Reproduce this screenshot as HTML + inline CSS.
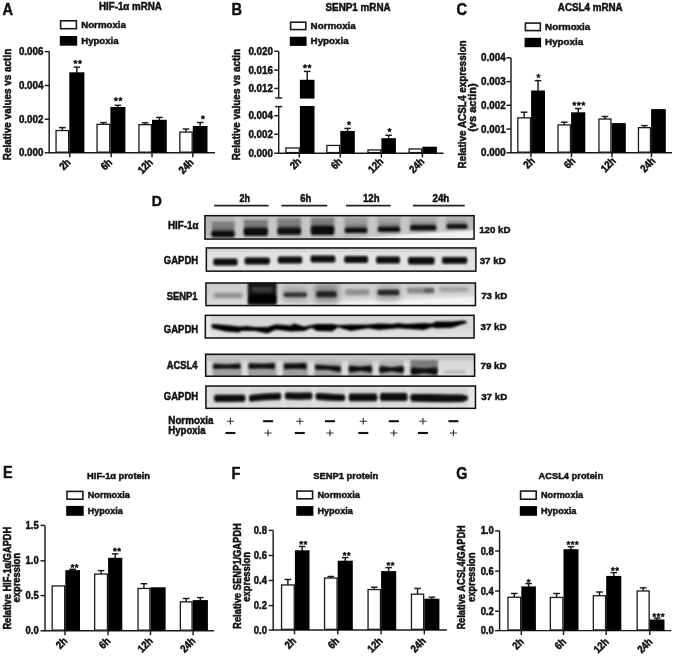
<!DOCTYPE html>
<html><head><meta charset="utf-8"><style>
html,body{margin:0;padding:0;background:#fff;width:673px;height:657px;overflow:hidden}
svg{display:block;will-change:transform}
text{font-family:"Liberation Sans", sans-serif;font-weight:bold;fill:#111;stroke:#111;stroke-width:0.45px}
</style></head><body>
<svg width="673" height="657" viewBox="0 0 673 657">
<rect width="673" height="657" fill="#fff"/>
<text transform="translate(2.60,14.80) scale(1,1.08)" font-size="14.6" text-anchor="start" >A</text>
<text transform="translate(130.40,10.20) scale(1,1.06)" font-size="9.6" text-anchor="middle" textLength="63.0" lengthAdjust="spacingAndGlyphs" >HIF-1α mRNA</text>
<rect x="60.60" y="20.80" width="15.80" height="7.90" fill="#fff" stroke="#1a1a1a" stroke-width="1.6"/>
<rect x="59.80" y="36.00" width="17.40" height="9.70" fill="#000"/>
<text transform="translate(81.20,27.60) scale(1,1.04)" font-size="9.6" text-anchor="start" textLength="44.7" lengthAdjust="spacingAndGlyphs" >Normoxia</text>
<text transform="translate(81.20,43.70) scale(1,1.04)" font-size="9.6" text-anchor="start" textLength="37.4" lengthAdjust="spacingAndGlyphs" >Hypoxia</text>
<line x1="49.20" y1="51.30" x2="49.20" y2="152.80" stroke="#1a1a1a" stroke-width="1.45"/>
<line x1="48.55" y1="152.80" x2="215.00" y2="152.80" stroke="#1a1a1a" stroke-width="1.45"/>
<line x1="44.70" y1="51.60" x2="49.20" y2="51.60" stroke="#1a1a1a" stroke-width="1.45"/>
<text transform="translate(43.40,55.10) scale(1,1.08)" font-size="9.8" text-anchor="end" >0.006</text>
<line x1="44.70" y1="85.50" x2="49.20" y2="85.50" stroke="#1a1a1a" stroke-width="1.45"/>
<text transform="translate(43.40,89.00) scale(1,1.08)" font-size="9.8" text-anchor="end" >0.004</text>
<line x1="44.70" y1="119.20" x2="49.20" y2="119.20" stroke="#1a1a1a" stroke-width="1.45"/>
<text transform="translate(43.40,122.70) scale(1,1.08)" font-size="9.8" text-anchor="end" >0.002</text>
<line x1="44.70" y1="152.80" x2="49.20" y2="152.80" stroke="#1a1a1a" stroke-width="1.45"/>
<text transform="translate(43.40,156.30) scale(1,1.08)" font-size="9.8" text-anchor="end" >0.000</text>
<text transform="translate(11.10,104.50) rotate(-90) scale(1,1.16)" font-size="9.8" text-anchor="middle" textLength="111.5" lengthAdjust="spacingAndGlyphs" >Relative values vs actin</text>
<line x1="62.35" y1="127.60" x2="62.35" y2="130.90" stroke="#1a1a1a" stroke-width="1.45"/>
<line x1="59.05" y1="127.60" x2="65.65" y2="127.60" stroke="#1a1a1a" stroke-width="1.45"/>
<rect x="56.05" y="130.55" width="12.60" height="21.60" fill="#fff" stroke="#1a1a1a" stroke-width="1.3"/>
<line x1="76.85" y1="67.10" x2="76.85" y2="73.30" stroke="#1a1a1a" stroke-width="1.45"/>
<line x1="73.55" y1="67.10" x2="80.15" y2="67.10" stroke="#1a1a1a" stroke-width="1.45"/>
<rect x="69.30" y="72.30" width="15.10" height="80.50" fill="#000"/>
<line x1="103.40" y1="122.60" x2="103.40" y2="124.70" stroke="#1a1a1a" stroke-width="1.45"/>
<line x1="100.10" y1="122.60" x2="106.70" y2="122.60" stroke="#1a1a1a" stroke-width="1.45"/>
<rect x="97.05" y="124.35" width="12.70" height="27.80" fill="#fff" stroke="#1a1a1a" stroke-width="1.3"/>
<line x1="117.90" y1="105.30" x2="117.90" y2="108.00" stroke="#1a1a1a" stroke-width="1.45"/>
<line x1="114.60" y1="105.30" x2="121.20" y2="105.30" stroke="#1a1a1a" stroke-width="1.45"/>
<rect x="110.40" y="107.00" width="15.00" height="45.80" fill="#000"/>
<line x1="145.15" y1="122.80" x2="145.15" y2="125.00" stroke="#1a1a1a" stroke-width="1.45"/>
<line x1="141.85" y1="122.80" x2="148.45" y2="122.80" stroke="#1a1a1a" stroke-width="1.45"/>
<rect x="138.95" y="124.65" width="12.40" height="27.50" fill="#fff" stroke="#1a1a1a" stroke-width="1.3"/>
<line x1="159.40" y1="117.40" x2="159.40" y2="120.80" stroke="#1a1a1a" stroke-width="1.45"/>
<line x1="156.10" y1="117.40" x2="162.70" y2="117.40" stroke="#1a1a1a" stroke-width="1.45"/>
<rect x="152.00" y="119.80" width="14.80" height="33.00" fill="#000"/>
<line x1="186.00" y1="129.00" x2="186.00" y2="132.40" stroke="#1a1a1a" stroke-width="1.45"/>
<line x1="182.70" y1="129.00" x2="189.30" y2="129.00" stroke="#1a1a1a" stroke-width="1.45"/>
<rect x="179.85" y="132.05" width="12.30" height="20.10" fill="#fff" stroke="#1a1a1a" stroke-width="1.3"/>
<line x1="200.15" y1="122.50" x2="200.15" y2="127.00" stroke="#1a1a1a" stroke-width="1.45"/>
<line x1="196.85" y1="122.50" x2="203.45" y2="122.50" stroke="#1a1a1a" stroke-width="1.45"/>
<rect x="192.80" y="126.00" width="14.70" height="26.80" fill="#000"/>
<polygon points="75.45,59.90 76.07,61.15 77.45,61.35 76.45,62.32 76.68,63.70 75.45,63.05 74.22,63.70 74.45,62.32 73.45,61.35 74.83,61.15" fill="#111" stroke="#111" stroke-width="0.7" stroke-linejoin="round"/>
<polygon points="79.95,59.90 80.57,61.15 81.95,61.35 80.95,62.32 81.18,63.70 79.95,63.05 78.72,63.70 78.95,62.32 77.95,61.35 79.33,61.15" fill="#111" stroke="#111" stroke-width="0.7" stroke-linejoin="round"/>
<polygon points="115.95,97.15 116.57,98.40 117.95,98.60 116.95,99.57 117.18,100.95 115.95,100.30 114.72,100.95 114.95,99.57 113.95,98.60 115.33,98.40" fill="#111" stroke="#111" stroke-width="0.7" stroke-linejoin="round"/>
<polygon points="120.45,97.15 121.07,98.40 122.45,98.60 121.45,99.57 121.68,100.95 120.45,100.30 119.22,100.95 119.45,99.57 118.45,98.60 119.83,98.40" fill="#111" stroke="#111" stroke-width="0.7" stroke-linejoin="round"/>
<polygon points="202.90,115.30 203.52,116.55 204.90,116.75 203.90,117.72 204.13,119.10 202.90,118.45 201.67,119.10 201.90,117.72 200.90,116.75 202.28,116.55" fill="#111" stroke="#111" stroke-width="0.7" stroke-linejoin="round"/>
<line x1="69.80" y1="152.80" x2="69.80" y2="157.20" stroke="#1a1a1a" stroke-width="1.45"/>
<text transform="translate(71.40,163.10) rotate(-45) scale(1,1.15)" font-size="9.4" text-anchor="end" >2h</text>
<line x1="111.20" y1="152.80" x2="111.20" y2="157.20" stroke="#1a1a1a" stroke-width="1.45"/>
<text transform="translate(112.80,163.10) rotate(-45) scale(1,1.15)" font-size="9.4" text-anchor="end" >6h</text>
<line x1="152.00" y1="152.80" x2="152.00" y2="157.20" stroke="#1a1a1a" stroke-width="1.45"/>
<text transform="translate(153.60,163.10) rotate(-45) scale(1,1.15)" font-size="9.4" text-anchor="end" >12h</text>
<line x1="192.80" y1="152.80" x2="192.80" y2="157.20" stroke="#1a1a1a" stroke-width="1.45"/>
<text transform="translate(194.40,163.10) rotate(-45) scale(1,1.15)" font-size="9.4" text-anchor="end" >24h</text>
<text transform="translate(231.60,14.80) scale(1,1.08)" font-size="14.6" text-anchor="start" >B</text>
<text transform="translate(358.05,10.50) scale(1,1.06)" font-size="9.6" text-anchor="middle" textLength="65.1" lengthAdjust="spacingAndGlyphs" >SENP1 mRNA</text>
<rect x="290.60" y="22.20" width="15.20" height="7.40" fill="#fff" stroke="#1a1a1a" stroke-width="1.6"/>
<rect x="289.80" y="36.70" width="16.80" height="9.20" fill="#000"/>
<text transform="translate(310.60,28.50) scale(1,1.04)" font-size="9.6" text-anchor="start" textLength="45.2" lengthAdjust="spacingAndGlyphs" >Normoxia</text>
<text transform="translate(310.60,43.90) scale(1,1.04)" font-size="9.6" text-anchor="start" textLength="38.1" lengthAdjust="spacingAndGlyphs" >Hypoxia</text>
<line x1="278.70" y1="51.30" x2="278.70" y2="98.00" stroke="#1a1a1a" stroke-width="1.45"/>
<line x1="278.70" y1="106.60" x2="278.70" y2="153.20" stroke="#1a1a1a" stroke-width="1.45"/>
<line x1="275.20" y1="98.00" x2="282.20" y2="98.00" stroke="#1a1a1a" stroke-width="1.45"/>
<line x1="275.20" y1="106.60" x2="282.20" y2="106.60" stroke="#1a1a1a" stroke-width="1.45"/>
<line x1="278.05" y1="153.20" x2="443.60" y2="153.20" stroke="#1a1a1a" stroke-width="1.45"/>
<line x1="274.20" y1="51.30" x2="278.70" y2="51.30" stroke="#1a1a1a" stroke-width="1.45"/>
<text transform="translate(272.90,54.80) scale(1,1.08)" font-size="9.8" text-anchor="end" >0.020</text>
<line x1="274.20" y1="70.10" x2="278.70" y2="70.10" stroke="#1a1a1a" stroke-width="1.45"/>
<text transform="translate(272.90,73.60) scale(1,1.08)" font-size="9.8" text-anchor="end" >0.016</text>
<line x1="274.20" y1="88.40" x2="278.70" y2="88.40" stroke="#1a1a1a" stroke-width="1.45"/>
<text transform="translate(272.90,91.90) scale(1,1.08)" font-size="9.8" text-anchor="end" >0.012</text>
<line x1="274.20" y1="115.70" x2="278.70" y2="115.70" stroke="#1a1a1a" stroke-width="1.45"/>
<text transform="translate(272.90,119.20) scale(1,1.08)" font-size="9.8" text-anchor="end" >0.004</text>
<line x1="274.20" y1="134.30" x2="278.70" y2="134.30" stroke="#1a1a1a" stroke-width="1.45"/>
<text transform="translate(272.90,137.80) scale(1,1.08)" font-size="9.8" text-anchor="end" >0.002</text>
<line x1="274.20" y1="153.20" x2="278.70" y2="153.20" stroke="#1a1a1a" stroke-width="1.45"/>
<text transform="translate(272.90,156.70) scale(1,1.08)" font-size="9.8" text-anchor="end" >0.000</text>
<text transform="translate(240.00,104.60) rotate(-90) scale(1,1.16)" font-size="9.8" text-anchor="middle" textLength="111.5" lengthAdjust="spacingAndGlyphs" >Relative values vs actin</text>
<rect x="285.95" y="147.95" width="13.30" height="4.60" fill="#fff" stroke="#1a1a1a" stroke-width="1.3"/>
<line x1="307.20" y1="71.40" x2="307.20" y2="80.80" stroke="#1a1a1a" stroke-width="1.45"/>
<line x1="303.90" y1="71.40" x2="310.50" y2="71.40" stroke="#1a1a1a" stroke-width="1.45"/>
<rect x="299.90" y="79.80" width="14.60" height="73.40" fill="#000"/>
<rect x="326.85" y="145.45" width="12.80" height="7.10" fill="#fff" stroke="#1a1a1a" stroke-width="1.3"/>
<line x1="347.55" y1="128.40" x2="347.55" y2="131.90" stroke="#1a1a1a" stroke-width="1.45"/>
<line x1="344.25" y1="128.40" x2="350.85" y2="128.40" stroke="#1a1a1a" stroke-width="1.45"/>
<rect x="340.30" y="130.90" width="14.50" height="22.30" fill="#000"/>
<rect x="367.95" y="149.95" width="12.80" height="2.60" fill="#fff" stroke="#1a1a1a" stroke-width="1.3"/>
<line x1="388.65" y1="135.30" x2="388.65" y2="139.20" stroke="#1a1a1a" stroke-width="1.45"/>
<line x1="385.35" y1="135.30" x2="391.95" y2="135.30" stroke="#1a1a1a" stroke-width="1.45"/>
<rect x="381.40" y="138.20" width="14.50" height="15.00" fill="#000"/>
<rect x="409.15" y="148.95" width="12.60" height="3.60" fill="#fff" stroke="#1a1a1a" stroke-width="1.3"/>
<rect x="422.40" y="146.70" width="14.50" height="6.50" fill="#000"/>
<rect x="295.00" y="98.60" width="25.00" height="7.40" fill="#fff"/>
<polygon points="304.95,64.25 305.57,65.50 306.95,65.70 305.95,66.67 306.18,68.05 304.95,67.40 303.72,68.05 303.95,66.67 302.95,65.70 304.33,65.50" fill="#111" stroke="#111" stroke-width="0.7" stroke-linejoin="round"/>
<polygon points="309.45,64.25 310.07,65.50 311.45,65.70 310.45,66.67 310.68,68.05 309.45,67.40 308.22,68.05 308.45,66.67 307.45,65.70 308.83,65.50" fill="#111" stroke="#111" stroke-width="0.7" stroke-linejoin="round"/>
<polygon points="349.00,121.15 349.62,122.40 351.00,122.60 350.00,123.57 350.23,124.95 349.00,124.30 347.77,124.95 348.00,123.57 347.00,122.60 348.38,122.40" fill="#111" stroke="#111" stroke-width="0.7" stroke-linejoin="round"/>
<polygon points="389.50,128.05 390.12,129.30 391.50,129.50 390.50,130.47 390.73,131.85 389.50,131.20 388.27,131.85 388.50,130.47 387.50,129.50 388.88,129.30" fill="#111" stroke="#111" stroke-width="0.7" stroke-linejoin="round"/>
<line x1="299.30" y1="153.20" x2="299.30" y2="157.60" stroke="#1a1a1a" stroke-width="1.45"/>
<text transform="translate(301.90,162.30) rotate(-45) scale(1,1.15)" font-size="9.4" text-anchor="end" >2h</text>
<line x1="340.30" y1="153.20" x2="340.30" y2="157.60" stroke="#1a1a1a" stroke-width="1.45"/>
<text transform="translate(342.90,162.30) rotate(-45) scale(1,1.15)" font-size="9.4" text-anchor="end" >6h</text>
<line x1="381.40" y1="153.20" x2="381.40" y2="157.60" stroke="#1a1a1a" stroke-width="1.45"/>
<text transform="translate(384.00,162.30) rotate(-45) scale(1,1.15)" font-size="9.4" text-anchor="end" >12h</text>
<line x1="422.40" y1="153.20" x2="422.40" y2="157.60" stroke="#1a1a1a" stroke-width="1.45"/>
<text transform="translate(425.00,162.30) rotate(-45) scale(1,1.15)" font-size="9.4" text-anchor="end" >24h</text>
<text transform="translate(456.60,14.80) scale(1,1.08)" font-size="14.6" text-anchor="start" >C</text>
<text transform="translate(590.25,10.70) scale(1,1.06)" font-size="9.6" text-anchor="middle" textLength="64.9" lengthAdjust="spacingAndGlyphs" >ACSL4 mRNA</text>
<rect x="525.40" y="23.10" width="14.90" height="7.50" fill="#fff" stroke="#1a1a1a" stroke-width="1.6"/>
<rect x="524.60" y="37.80" width="16.50" height="9.40" fill="#000"/>
<text transform="translate(545.10,29.50) scale(1,1.04)" font-size="9.6" text-anchor="start" textLength="45.1" lengthAdjust="spacingAndGlyphs" >Normoxia</text>
<text transform="translate(545.10,45.20) scale(1,1.04)" font-size="9.6" text-anchor="start" textLength="38.0" lengthAdjust="spacingAndGlyphs" >Hypoxia</text>
<line x1="511.00" y1="57.70" x2="511.00" y2="152.80" stroke="#1a1a1a" stroke-width="1.45"/>
<line x1="510.35" y1="152.80" x2="672.00" y2="152.80" stroke="#1a1a1a" stroke-width="1.45"/>
<line x1="506.50" y1="57.80" x2="511.00" y2="57.80" stroke="#1a1a1a" stroke-width="1.45"/>
<text transform="translate(505.60,61.30) scale(1,1.08)" font-size="9.8" text-anchor="end" >0.004</text>
<line x1="506.50" y1="81.60" x2="511.00" y2="81.60" stroke="#1a1a1a" stroke-width="1.45"/>
<text transform="translate(505.60,85.10) scale(1,1.08)" font-size="9.8" text-anchor="end" >0.003</text>
<line x1="506.50" y1="105.30" x2="511.00" y2="105.30" stroke="#1a1a1a" stroke-width="1.45"/>
<text transform="translate(505.60,108.80) scale(1,1.08)" font-size="9.8" text-anchor="end" >0.002</text>
<line x1="506.50" y1="129.10" x2="511.00" y2="129.10" stroke="#1a1a1a" stroke-width="1.45"/>
<text transform="translate(505.60,132.60) scale(1,1.08)" font-size="9.8" text-anchor="end" >0.001</text>
<line x1="506.50" y1="152.80" x2="511.00" y2="152.80" stroke="#1a1a1a" stroke-width="1.45"/>
<text transform="translate(505.60,156.30) scale(1,1.08)" font-size="9.8" text-anchor="end" >0.000</text>
<text transform="translate(465.80,104.50) rotate(-90) scale(1,1.16)" font-size="9.8" text-anchor="middle" textLength="128" lengthAdjust="spacingAndGlyphs" >Relative ACSL4 expression</text>
<text transform="translate(476.20,107.60) rotate(-90) scale(1,1.16)" font-size="9.8" text-anchor="middle" textLength="48.5" lengthAdjust="spacingAndGlyphs" >(vs actin)</text>
<line x1="524.15" y1="112.20" x2="524.15" y2="118.20" stroke="#1a1a1a" stroke-width="1.45"/>
<line x1="520.85" y1="112.20" x2="527.45" y2="112.20" stroke="#1a1a1a" stroke-width="1.45"/>
<rect x="517.85" y="117.85" width="12.60" height="34.30" fill="#fff" stroke="#1a1a1a" stroke-width="1.3"/>
<line x1="538.05" y1="80.60" x2="538.05" y2="91.50" stroke="#1a1a1a" stroke-width="1.45"/>
<line x1="534.75" y1="80.60" x2="541.35" y2="80.60" stroke="#1a1a1a" stroke-width="1.45"/>
<rect x="531.10" y="90.50" width="13.90" height="62.30" fill="#000"/>
<line x1="564.25" y1="122.20" x2="564.25" y2="125.30" stroke="#1a1a1a" stroke-width="1.45"/>
<line x1="560.95" y1="122.20" x2="567.55" y2="122.20" stroke="#1a1a1a" stroke-width="1.45"/>
<rect x="558.05" y="124.95" width="12.40" height="27.20" fill="#fff" stroke="#1a1a1a" stroke-width="1.3"/>
<line x1="578.20" y1="108.50" x2="578.20" y2="113.30" stroke="#1a1a1a" stroke-width="1.45"/>
<line x1="574.90" y1="108.50" x2="581.50" y2="108.50" stroke="#1a1a1a" stroke-width="1.45"/>
<rect x="571.10" y="112.30" width="14.20" height="40.50" fill="#000"/>
<line x1="604.95" y1="116.50" x2="604.95" y2="119.40" stroke="#1a1a1a" stroke-width="1.45"/>
<line x1="601.65" y1="116.50" x2="608.25" y2="116.50" stroke="#1a1a1a" stroke-width="1.45"/>
<rect x="598.95" y="119.05" width="12.00" height="33.10" fill="#fff" stroke="#1a1a1a" stroke-width="1.3"/>
<rect x="611.60" y="123.10" width="14.20" height="29.70" fill="#000"/>
<line x1="644.45" y1="125.60" x2="644.45" y2="128.00" stroke="#1a1a1a" stroke-width="1.45"/>
<line x1="641.15" y1="125.60" x2="647.75" y2="125.60" stroke="#1a1a1a" stroke-width="1.45"/>
<rect x="638.45" y="127.65" width="12.00" height="24.50" fill="#fff" stroke="#1a1a1a" stroke-width="1.3"/>
<rect x="651.10" y="109.10" width="14.70" height="43.70" fill="#000"/>
<polygon points="538.40,73.90 539.02,75.15 540.40,75.35 539.40,76.32 539.63,77.70 538.40,77.05 537.17,77.70 537.40,76.32 536.40,75.35 537.78,75.15" fill="#111" stroke="#111" stroke-width="0.7" stroke-linejoin="round"/>
<polygon points="574.30,101.70 574.92,102.95 576.30,103.15 575.30,104.12 575.53,105.50 574.30,104.85 573.07,105.50 573.30,104.12 572.30,103.15 573.68,102.95" fill="#111" stroke="#111" stroke-width="0.7" stroke-linejoin="round"/>
<polygon points="578.80,101.70 579.42,102.95 580.80,103.15 579.80,104.12 580.03,105.50 578.80,104.85 577.57,105.50 577.80,104.12 576.80,103.15 578.18,102.95" fill="#111" stroke="#111" stroke-width="0.7" stroke-linejoin="round"/>
<polygon points="583.30,101.70 583.92,102.95 585.30,103.15 584.30,104.12 584.53,105.50 583.30,104.85 582.07,105.50 582.30,104.12 581.30,103.15 582.68,102.95" fill="#111" stroke="#111" stroke-width="0.7" stroke-linejoin="round"/>
<line x1="531.00" y1="152.80" x2="531.00" y2="157.20" stroke="#1a1a1a" stroke-width="1.45"/>
<text transform="translate(535.60,161.60) rotate(-45) scale(1,1.15)" font-size="9.4" text-anchor="end" >2h</text>
<line x1="571.50" y1="152.80" x2="571.50" y2="157.20" stroke="#1a1a1a" stroke-width="1.45"/>
<text transform="translate(576.10,161.60) rotate(-45) scale(1,1.15)" font-size="9.4" text-anchor="end" >6h</text>
<line x1="612.00" y1="152.80" x2="612.00" y2="157.20" stroke="#1a1a1a" stroke-width="1.45"/>
<text transform="translate(616.60,161.60) rotate(-45) scale(1,1.15)" font-size="9.4" text-anchor="end" >12h</text>
<line x1="651.50" y1="152.80" x2="651.50" y2="157.20" stroke="#1a1a1a" stroke-width="1.45"/>
<text transform="translate(656.10,161.60) rotate(-45) scale(1,1.15)" font-size="9.4" text-anchor="end" >24h</text>
<text transform="translate(3.00,477.90) scale(1,1.15)" font-size="14.4" text-anchor="start" >E</text>
<text transform="translate(118.55,479.00) scale(1,1.06)" font-size="9.2" text-anchor="middle" textLength="62.9" lengthAdjust="spacingAndGlyphs" >HIF-1α protein</text>
<rect x="67.00" y="491.40" width="15.90" height="7.80" fill="#fff" stroke="#1a1a1a" stroke-width="1.6"/>
<rect x="66.20" y="505.90" width="17.50" height="9.90" fill="#000"/>
<text transform="translate(87.70,498.10) scale(1,1.04)" font-size="9.2" text-anchor="start" textLength="42.2" lengthAdjust="spacingAndGlyphs" >Normoxia</text>
<text transform="translate(87.70,513.80) scale(1,1.04)" font-size="9.2" text-anchor="start" textLength="35.1" lengthAdjust="spacingAndGlyphs" >Hypoxia</text>
<line x1="45.00" y1="525.40" x2="45.00" y2="630.80" stroke="#1a1a1a" stroke-width="1.45"/>
<line x1="44.35" y1="630.80" x2="214.10" y2="630.80" stroke="#1a1a1a" stroke-width="1.45"/>
<line x1="40.50" y1="525.40" x2="45.00" y2="525.40" stroke="#1a1a1a" stroke-width="1.45"/>
<text transform="translate(38.60,528.90) scale(1,1.08)" font-size="9.4" text-anchor="end" >1.5</text>
<line x1="40.50" y1="560.80" x2="45.00" y2="560.80" stroke="#1a1a1a" stroke-width="1.45"/>
<text transform="translate(38.60,564.30) scale(1,1.08)" font-size="9.4" text-anchor="end" >1.0</text>
<line x1="40.50" y1="595.60" x2="45.00" y2="595.60" stroke="#1a1a1a" stroke-width="1.45"/>
<text transform="translate(38.60,599.10) scale(1,1.08)" font-size="9.4" text-anchor="end" >0.5</text>
<line x1="40.50" y1="630.80" x2="45.00" y2="630.80" stroke="#1a1a1a" stroke-width="1.45"/>
<text transform="translate(38.60,634.30) scale(1,1.08)" font-size="9.4" text-anchor="end" >0.0</text>
<text transform="translate(11.20,578.20) rotate(-90) scale(1,1.16)" font-size="9.4" text-anchor="middle" textLength="102.7" lengthAdjust="spacingAndGlyphs" >Relative HIF-1α/GAPDH</text>
<text transform="translate(20.30,577.70) rotate(-90) scale(1,1.16)" font-size="9.4" text-anchor="middle" >expression</text>
<rect x="52.15" y="585.95" width="12.50" height="44.20" fill="#fff" stroke="#1a1a1a" stroke-width="1.3"/>
<line x1="72.65" y1="569.30" x2="72.65" y2="571.10" stroke="#1a1a1a" stroke-width="1.45"/>
<line x1="69.35" y1="569.30" x2="75.95" y2="569.30" stroke="#1a1a1a" stroke-width="1.45"/>
<rect x="65.30" y="570.10" width="14.70" height="60.70" fill="#000"/>
<line x1="101.05" y1="570.60" x2="101.05" y2="574.40" stroke="#1a1a1a" stroke-width="1.45"/>
<line x1="97.75" y1="570.60" x2="104.35" y2="570.60" stroke="#1a1a1a" stroke-width="1.45"/>
<rect x="94.65" y="574.05" width="12.80" height="56.10" fill="#fff" stroke="#1a1a1a" stroke-width="1.3"/>
<line x1="115.20" y1="553.90" x2="115.20" y2="558.80" stroke="#1a1a1a" stroke-width="1.45"/>
<line x1="111.90" y1="553.90" x2="118.50" y2="553.90" stroke="#1a1a1a" stroke-width="1.45"/>
<rect x="108.10" y="557.80" width="14.20" height="73.00" fill="#000"/>
<line x1="143.95" y1="583.70" x2="143.95" y2="588.80" stroke="#1a1a1a" stroke-width="1.45"/>
<line x1="140.65" y1="583.70" x2="147.25" y2="583.70" stroke="#1a1a1a" stroke-width="1.45"/>
<rect x="138.05" y="588.45" width="11.80" height="41.70" fill="#fff" stroke="#1a1a1a" stroke-width="1.3"/>
<rect x="150.50" y="587.30" width="15.10" height="43.50" fill="#000"/>
<line x1="186.20" y1="598.50" x2="186.20" y2="602.20" stroke="#1a1a1a" stroke-width="1.45"/>
<line x1="182.90" y1="598.50" x2="189.50" y2="598.50" stroke="#1a1a1a" stroke-width="1.45"/>
<rect x="180.35" y="601.85" width="11.70" height="28.30" fill="#fff" stroke="#1a1a1a" stroke-width="1.3"/>
<line x1="200.30" y1="597.60" x2="200.30" y2="601.10" stroke="#1a1a1a" stroke-width="1.45"/>
<line x1="197.00" y1="597.60" x2="203.60" y2="597.60" stroke="#1a1a1a" stroke-width="1.45"/>
<rect x="192.70" y="600.10" width="15.20" height="30.70" fill="#000"/>
<polygon points="72.50,564.05 73.09,565.24 74.40,565.43 73.45,566.36 73.68,567.67 72.50,567.05 71.32,567.67 71.55,566.36 70.60,565.43 71.91,565.24" fill="#111" stroke="#111" stroke-width="0.7" stroke-linejoin="round"/>
<polygon points="76.70,564.05 77.29,565.24 78.60,565.43 77.65,566.36 77.88,567.67 76.70,567.05 75.52,567.67 75.75,566.36 74.80,565.43 76.11,565.24" fill="#111" stroke="#111" stroke-width="0.7" stroke-linejoin="round"/>
<polygon points="114.90,547.70 115.49,548.89 116.80,549.08 115.85,550.01 116.08,551.32 114.90,550.70 113.72,551.32 113.95,550.01 113.00,549.08 114.31,548.89" fill="#111" stroke="#111" stroke-width="0.7" stroke-linejoin="round"/>
<polygon points="119.10,547.70 119.69,548.89 121.00,549.08 120.05,550.01 120.28,551.32 119.10,550.70 117.92,551.32 118.15,550.01 117.20,549.08 118.51,548.89" fill="#111" stroke="#111" stroke-width="0.7" stroke-linejoin="round"/>
<line x1="65.00" y1="630.80" x2="65.00" y2="635.20" stroke="#1a1a1a" stroke-width="1.45"/>
<text transform="translate(68.00,641.70) rotate(-45) scale(1,1.15)" font-size="9.4" text-anchor="end" >2h</text>
<line x1="108.10" y1="630.80" x2="108.10" y2="635.20" stroke="#1a1a1a" stroke-width="1.45"/>
<text transform="translate(111.10,641.70) rotate(-45) scale(1,1.15)" font-size="9.4" text-anchor="end" >6h</text>
<line x1="150.50" y1="630.80" x2="150.50" y2="635.20" stroke="#1a1a1a" stroke-width="1.45"/>
<text transform="translate(153.50,641.70) rotate(-45) scale(1,1.15)" font-size="9.4" text-anchor="end" >12h</text>
<line x1="193.10" y1="630.80" x2="193.10" y2="635.20" stroke="#1a1a1a" stroke-width="1.45"/>
<text transform="translate(196.10,641.70) rotate(-45) scale(1,1.15)" font-size="9.4" text-anchor="end" >24h</text>
<text transform="translate(231.60,478.80) scale(1,1.15)" font-size="14.4" text-anchor="start" >F</text>
<text transform="translate(345.75,478.80) scale(1,1.06)" font-size="9.2" text-anchor="middle" textLength="65.1" lengthAdjust="spacingAndGlyphs" >SENP1 protein</text>
<rect x="297.00" y="491.10" width="15.60" height="7.70" fill="#fff" stroke="#1a1a1a" stroke-width="1.6"/>
<rect x="296.20" y="506.10" width="17.20" height="9.70" fill="#000"/>
<text transform="translate(317.40,497.70) scale(1,1.04)" font-size="9.2" text-anchor="start" textLength="42.5" lengthAdjust="spacingAndGlyphs" >Normoxia</text>
<text transform="translate(317.40,513.80) scale(1,1.04)" font-size="9.2" text-anchor="start" textLength="35.4" lengthAdjust="spacingAndGlyphs" >Hypoxia</text>
<line x1="273.20" y1="530.40" x2="273.20" y2="630.00" stroke="#1a1a1a" stroke-width="1.45"/>
<line x1="272.55" y1="630.00" x2="446.90" y2="630.00" stroke="#1a1a1a" stroke-width="1.45"/>
<line x1="268.70" y1="530.40" x2="273.20" y2="530.40" stroke="#1a1a1a" stroke-width="1.45"/>
<text transform="translate(266.90,533.90) scale(1,1.08)" font-size="9.4" text-anchor="end" >0.8</text>
<line x1="268.70" y1="555.50" x2="273.20" y2="555.50" stroke="#1a1a1a" stroke-width="1.45"/>
<text transform="translate(266.90,559.00) scale(1,1.08)" font-size="9.4" text-anchor="end" >0.6</text>
<line x1="268.70" y1="580.50" x2="273.20" y2="580.50" stroke="#1a1a1a" stroke-width="1.45"/>
<text transform="translate(266.90,584.00) scale(1,1.08)" font-size="9.4" text-anchor="end" >0.4</text>
<line x1="268.70" y1="605.60" x2="273.20" y2="605.60" stroke="#1a1a1a" stroke-width="1.45"/>
<text transform="translate(266.90,609.10) scale(1,1.08)" font-size="9.4" text-anchor="end" >0.2</text>
<line x1="268.70" y1="630.00" x2="273.20" y2="630.00" stroke="#1a1a1a" stroke-width="1.45"/>
<text transform="translate(266.90,633.50) scale(1,1.08)" font-size="9.4" text-anchor="end" >0.0</text>
<text transform="translate(240.70,576.00) rotate(-90) scale(1,1.16)" font-size="9.4" text-anchor="middle" textLength="105.8" lengthAdjust="spacingAndGlyphs" >Relative SENP1/GAPDH</text>
<text transform="translate(250.00,576.90) rotate(-90) scale(1,1.16)" font-size="9.4" text-anchor="middle" >expression</text>
<line x1="287.90" y1="579.50" x2="287.90" y2="585.30" stroke="#1a1a1a" stroke-width="1.45"/>
<line x1="284.60" y1="579.50" x2="291.20" y2="579.50" stroke="#1a1a1a" stroke-width="1.45"/>
<rect x="281.55" y="584.95" width="12.70" height="44.40" fill="#fff" stroke="#1a1a1a" stroke-width="1.3"/>
<line x1="302.20" y1="546.50" x2="302.20" y2="551.30" stroke="#1a1a1a" stroke-width="1.45"/>
<line x1="298.90" y1="546.50" x2="305.50" y2="546.50" stroke="#1a1a1a" stroke-width="1.45"/>
<rect x="294.90" y="550.30" width="14.60" height="79.70" fill="#000"/>
<line x1="330.80" y1="576.50" x2="330.80" y2="578.40" stroke="#1a1a1a" stroke-width="1.45"/>
<line x1="327.50" y1="576.50" x2="334.10" y2="576.50" stroke="#1a1a1a" stroke-width="1.45"/>
<rect x="324.55" y="578.05" width="12.50" height="51.30" fill="#fff" stroke="#1a1a1a" stroke-width="1.3"/>
<line x1="345.25" y1="557.60" x2="345.25" y2="561.70" stroke="#1a1a1a" stroke-width="1.45"/>
<line x1="341.95" y1="557.60" x2="348.55" y2="557.60" stroke="#1a1a1a" stroke-width="1.45"/>
<rect x="337.70" y="560.70" width="15.10" height="69.30" fill="#000"/>
<line x1="374.25" y1="587.20" x2="374.25" y2="589.90" stroke="#1a1a1a" stroke-width="1.45"/>
<line x1="370.95" y1="587.20" x2="377.55" y2="587.20" stroke="#1a1a1a" stroke-width="1.45"/>
<rect x="368.05" y="589.55" width="12.40" height="39.80" fill="#fff" stroke="#1a1a1a" stroke-width="1.3"/>
<line x1="388.65" y1="567.60" x2="388.65" y2="572.10" stroke="#1a1a1a" stroke-width="1.45"/>
<line x1="385.35" y1="567.60" x2="391.95" y2="567.60" stroke="#1a1a1a" stroke-width="1.45"/>
<rect x="381.10" y="571.10" width="15.10" height="58.90" fill="#000"/>
<line x1="417.55" y1="588.40" x2="417.55" y2="594.50" stroke="#1a1a1a" stroke-width="1.45"/>
<line x1="414.25" y1="588.40" x2="420.85" y2="588.40" stroke="#1a1a1a" stroke-width="1.45"/>
<rect x="411.45" y="594.15" width="12.20" height="35.20" fill="#fff" stroke="#1a1a1a" stroke-width="1.3"/>
<line x1="431.85" y1="597.20" x2="431.85" y2="599.70" stroke="#1a1a1a" stroke-width="1.45"/>
<line x1="428.55" y1="597.20" x2="435.15" y2="597.20" stroke="#1a1a1a" stroke-width="1.45"/>
<rect x="424.30" y="598.70" width="15.10" height="31.30" fill="#000"/>
<polygon points="301.20,540.85 301.79,542.04 303.10,542.23 302.15,543.16 302.38,544.47 301.20,543.85 300.02,544.47 300.25,543.16 299.30,542.23 300.61,542.04" fill="#111" stroke="#111" stroke-width="0.7" stroke-linejoin="round"/>
<polygon points="305.40,540.85 305.99,542.04 307.30,542.23 306.35,543.16 306.58,544.47 305.40,543.85 304.22,544.47 304.45,543.16 303.50,542.23 304.81,542.04" fill="#111" stroke="#111" stroke-width="0.7" stroke-linejoin="round"/>
<polygon points="344.60,552.00 345.19,553.19 346.50,553.38 345.55,554.31 345.78,555.62 344.60,555.00 343.42,555.62 343.65,554.31 342.70,553.38 344.01,553.19" fill="#111" stroke="#111" stroke-width="0.7" stroke-linejoin="round"/>
<polygon points="348.80,552.00 349.39,553.19 350.70,553.38 349.75,554.31 349.98,555.62 348.80,555.00 347.62,555.62 347.85,554.31 346.90,553.38 348.21,553.19" fill="#111" stroke="#111" stroke-width="0.7" stroke-linejoin="round"/>
<polygon points="388.40,561.95 388.99,563.14 390.30,563.33 389.35,564.26 389.58,565.57 388.40,564.95 387.22,565.57 387.45,564.26 386.50,563.33 387.81,563.14" fill="#111" stroke="#111" stroke-width="0.7" stroke-linejoin="round"/>
<polygon points="392.60,561.95 393.19,563.14 394.50,563.33 393.55,564.26 393.78,565.57 392.60,564.95 391.42,565.57 391.65,564.26 390.70,563.33 392.01,563.14" fill="#111" stroke="#111" stroke-width="0.7" stroke-linejoin="round"/>
<line x1="294.50" y1="630.00" x2="294.50" y2="634.40" stroke="#1a1a1a" stroke-width="1.45"/>
<text transform="translate(296.70,641.80) rotate(-45) scale(1,1.15)" font-size="9.4" text-anchor="end" >2h</text>
<line x1="337.70" y1="630.00" x2="337.70" y2="634.40" stroke="#1a1a1a" stroke-width="1.45"/>
<text transform="translate(339.90,641.80) rotate(-45) scale(1,1.15)" font-size="9.4" text-anchor="end" >6h</text>
<line x1="381.10" y1="630.00" x2="381.10" y2="634.40" stroke="#1a1a1a" stroke-width="1.45"/>
<text transform="translate(383.30,641.80) rotate(-45) scale(1,1.15)" font-size="9.4" text-anchor="end" >12h</text>
<line x1="424.30" y1="630.00" x2="424.30" y2="634.40" stroke="#1a1a1a" stroke-width="1.45"/>
<text transform="translate(426.50,641.80) rotate(-45) scale(1,1.15)" font-size="9.4" text-anchor="end" >24h</text>
<text transform="translate(456.20,478.70) scale(1,1.15)" font-size="14.4" text-anchor="start" >G</text>
<text transform="translate(570.80,479.00) scale(1,1.06)" font-size="9.2" text-anchor="middle" textLength="64.6" lengthAdjust="spacingAndGlyphs" >ACSL4 protein</text>
<rect x="520.60" y="491.10" width="15.60" height="8.10" fill="#fff" stroke="#1a1a1a" stroke-width="1.6"/>
<rect x="519.80" y="506.10" width="17.20" height="9.70" fill="#000"/>
<text transform="translate(541.00,498.10) scale(1,1.04)" font-size="9.2" text-anchor="start" textLength="42.1" lengthAdjust="spacingAndGlyphs" >Normoxia</text>
<text transform="translate(541.00,513.80) scale(1,1.04)" font-size="9.2" text-anchor="start" textLength="35.3" lengthAdjust="spacingAndGlyphs" >Hypoxia</text>
<line x1="499.60" y1="530.80" x2="499.60" y2="630.60" stroke="#1a1a1a" stroke-width="1.45"/>
<line x1="498.95" y1="630.60" x2="671.30" y2="630.60" stroke="#1a1a1a" stroke-width="1.45"/>
<line x1="495.10" y1="530.90" x2="499.60" y2="530.90" stroke="#1a1a1a" stroke-width="1.45"/>
<text transform="translate(493.70,534.40) scale(1,1.08)" font-size="9.4" text-anchor="end" >1.0</text>
<line x1="495.10" y1="551.00" x2="499.60" y2="551.00" stroke="#1a1a1a" stroke-width="1.45"/>
<text transform="translate(493.70,554.50) scale(1,1.08)" font-size="9.4" text-anchor="end" >0.8</text>
<line x1="495.10" y1="571.10" x2="499.60" y2="571.10" stroke="#1a1a1a" stroke-width="1.45"/>
<text transform="translate(493.70,574.60) scale(1,1.08)" font-size="9.4" text-anchor="end" >0.6</text>
<line x1="495.10" y1="591.00" x2="499.60" y2="591.00" stroke="#1a1a1a" stroke-width="1.45"/>
<text transform="translate(493.70,594.50) scale(1,1.08)" font-size="9.4" text-anchor="end" >0.4</text>
<line x1="495.10" y1="611.20" x2="499.60" y2="611.20" stroke="#1a1a1a" stroke-width="1.45"/>
<text transform="translate(493.70,614.70) scale(1,1.08)" font-size="9.4" text-anchor="end" >0.2</text>
<line x1="495.10" y1="630.60" x2="499.60" y2="630.60" stroke="#1a1a1a" stroke-width="1.45"/>
<text transform="translate(493.70,634.10) scale(1,1.08)" font-size="9.4" text-anchor="end" >0.0</text>
<text transform="translate(464.90,577.40) rotate(-90) scale(1,1.16)" font-size="9.4" text-anchor="middle" textLength="104.4" lengthAdjust="spacingAndGlyphs" >Relative ACSL4/GAPDH</text>
<text transform="translate(475.00,577.30) rotate(-90) scale(1,1.16)" font-size="9.4" text-anchor="middle" >expression</text>
<line x1="514.30" y1="593.50" x2="514.30" y2="597.60" stroke="#1a1a1a" stroke-width="1.45"/>
<line x1="511.00" y1="593.50" x2="517.60" y2="593.50" stroke="#1a1a1a" stroke-width="1.45"/>
<rect x="507.95" y="597.25" width="12.70" height="32.70" fill="#fff" stroke="#1a1a1a" stroke-width="1.3"/>
<line x1="528.60" y1="583.60" x2="528.60" y2="587.40" stroke="#1a1a1a" stroke-width="1.45"/>
<line x1="525.30" y1="583.60" x2="531.90" y2="583.60" stroke="#1a1a1a" stroke-width="1.45"/>
<rect x="521.30" y="586.40" width="14.60" height="44.20" fill="#000"/>
<line x1="556.60" y1="593.50" x2="556.60" y2="597.80" stroke="#1a1a1a" stroke-width="1.45"/>
<line x1="553.30" y1="593.50" x2="559.90" y2="593.50" stroke="#1a1a1a" stroke-width="1.45"/>
<rect x="550.35" y="597.45" width="12.50" height="32.50" fill="#fff" stroke="#1a1a1a" stroke-width="1.3"/>
<line x1="571.00" y1="546.70" x2="571.00" y2="550.20" stroke="#1a1a1a" stroke-width="1.45"/>
<line x1="567.70" y1="546.70" x2="574.30" y2="546.70" stroke="#1a1a1a" stroke-width="1.45"/>
<rect x="563.50" y="549.20" width="15.00" height="81.40" fill="#000"/>
<line x1="599.45" y1="592.00" x2="599.45" y2="596.10" stroke="#1a1a1a" stroke-width="1.45"/>
<line x1="596.15" y1="592.00" x2="602.75" y2="592.00" stroke="#1a1a1a" stroke-width="1.45"/>
<rect x="593.35" y="595.75" width="12.20" height="34.20" fill="#fff" stroke="#1a1a1a" stroke-width="1.3"/>
<line x1="613.75" y1="572.60" x2="613.75" y2="576.90" stroke="#1a1a1a" stroke-width="1.45"/>
<line x1="610.45" y1="572.60" x2="617.05" y2="572.60" stroke="#1a1a1a" stroke-width="1.45"/>
<rect x="606.20" y="575.90" width="15.10" height="54.70" fill="#000"/>
<line x1="643.15" y1="587.80" x2="643.15" y2="591.30" stroke="#1a1a1a" stroke-width="1.45"/>
<line x1="639.85" y1="587.80" x2="646.45" y2="587.80" stroke="#1a1a1a" stroke-width="1.45"/>
<rect x="637.15" y="590.95" width="12.00" height="39.00" fill="#fff" stroke="#1a1a1a" stroke-width="1.3"/>
<line x1="657.15" y1="618.10" x2="657.15" y2="620.50" stroke="#1a1a1a" stroke-width="1.45"/>
<line x1="653.85" y1="618.10" x2="660.45" y2="618.10" stroke="#1a1a1a" stroke-width="1.45"/>
<rect x="649.80" y="619.50" width="14.70" height="11.10" fill="#000"/>
<polygon points="528.60,578.95 529.19,580.14 530.50,580.33 529.55,581.26 529.78,582.57 528.60,581.95 527.42,582.57 527.65,581.26 526.70,580.33 528.01,580.14" fill="#111" stroke="#111" stroke-width="0.7" stroke-linejoin="round"/>
<polygon points="568.40,541.05 568.99,542.24 570.30,542.43 569.35,543.36 569.58,544.67 568.40,544.05 567.22,544.67 567.45,543.36 566.50,542.43 567.81,542.24" fill="#111" stroke="#111" stroke-width="0.7" stroke-linejoin="round"/>
<polygon points="572.60,541.05 573.19,542.24 574.50,542.43 573.55,543.36 573.78,544.67 572.60,544.05 571.42,544.67 571.65,543.36 570.70,542.43 572.01,542.24" fill="#111" stroke="#111" stroke-width="0.7" stroke-linejoin="round"/>
<polygon points="576.80,541.05 577.39,542.24 578.70,542.43 577.75,543.36 577.98,544.67 576.80,544.05 575.62,544.67 575.85,543.36 574.90,542.43 576.21,542.24" fill="#111" stroke="#111" stroke-width="0.7" stroke-linejoin="round"/>
<polygon points="612.90,567.05 613.49,568.24 614.80,568.43 613.85,569.36 614.08,570.67 612.90,570.05 611.72,570.67 611.95,569.36 611.00,568.43 612.31,568.24" fill="#111" stroke="#111" stroke-width="0.7" stroke-linejoin="round"/>
<polygon points="617.10,567.05 617.69,568.24 619.00,568.43 618.05,569.36 618.28,570.67 617.10,570.05 615.92,570.67 616.15,569.36 615.20,568.43 616.51,568.24" fill="#111" stroke="#111" stroke-width="0.7" stroke-linejoin="round"/>
<polygon points="654.30,613.15 654.89,614.34 656.20,614.53 655.25,615.46 655.48,616.77 654.30,616.15 653.12,616.77 653.35,615.46 652.40,614.53 653.71,614.34" fill="#111" stroke="#111" stroke-width="0.7" stroke-linejoin="round"/>
<polygon points="658.50,613.15 659.09,614.34 660.40,614.53 659.45,615.46 659.68,616.77 658.50,616.15 657.32,616.77 657.55,615.46 656.60,614.53 657.91,614.34" fill="#111" stroke="#111" stroke-width="0.7" stroke-linejoin="round"/>
<polygon points="662.70,613.15 663.29,614.34 664.60,614.53 663.65,615.46 663.88,616.77 662.70,616.15 661.52,616.77 661.75,615.46 660.80,614.53 662.11,614.34" fill="#111" stroke="#111" stroke-width="0.7" stroke-linejoin="round"/>
<line x1="521.30" y1="630.60" x2="521.30" y2="635.00" stroke="#1a1a1a" stroke-width="1.45"/>
<text transform="translate(524.60,642.40) rotate(-45) scale(1,1.15)" font-size="9.4" text-anchor="end" >2h</text>
<line x1="563.50" y1="630.60" x2="563.50" y2="635.00" stroke="#1a1a1a" stroke-width="1.45"/>
<text transform="translate(566.80,642.40) rotate(-45) scale(1,1.15)" font-size="9.4" text-anchor="end" >6h</text>
<line x1="606.20" y1="630.60" x2="606.20" y2="635.00" stroke="#1a1a1a" stroke-width="1.45"/>
<text transform="translate(609.50,642.40) rotate(-45) scale(1,1.15)" font-size="9.4" text-anchor="end" >12h</text>
<line x1="649.80" y1="630.60" x2="649.80" y2="635.00" stroke="#1a1a1a" stroke-width="1.45"/>
<text transform="translate(653.10,642.40) rotate(-45) scale(1,1.15)" font-size="9.4" text-anchor="end" >24h</text>
<defs><filter id="b1" x="-30%" y="-100%" width="160%" height="300%"><feGaussianBlur stdDeviation="0.9"/></filter><filter id="b15" x="-30%" y="-100%" width="160%" height="300%"><feGaussianBlur stdDeviation="1.3"/></filter><filter id="b2" x="-30%" y="-100%" width="160%" height="300%"><feGaussianBlur stdDeviation="1.8"/></filter><filter id="b3" x="-30%" y="-100%" width="160%" height="300%"><feGaussianBlur stdDeviation="3"/></filter></defs>
<text transform="translate(151.80,206.00) scale(1,1.04)" font-size="14.0" text-anchor="start">D</text>
<line x1="214.1" y1="205.6" x2="268.6" y2="205.6" stroke="#222" stroke-width="1.6"/>
<text transform="translate(244.75,202.20) scale(1,1.16)" font-size="9.2" text-anchor="middle" textLength="10.5" lengthAdjust="spacingAndGlyphs">2h</text>
<line x1="281.5" y1="205.6" x2="327.3" y2="205.6" stroke="#222" stroke-width="1.6"/>
<text transform="translate(305.80,202.20) scale(1,1.16)" font-size="9.2" text-anchor="middle" textLength="11.0" lengthAdjust="spacingAndGlyphs">6h</text>
<line x1="346" y1="205.6" x2="390.6" y2="205.6" stroke="#222" stroke-width="1.6"/>
<text transform="translate(371.25,202.20) scale(1,1.16)" font-size="9.2" text-anchor="middle" textLength="16.5" lengthAdjust="spacingAndGlyphs">12h</text>
<line x1="412.9" y1="205.6" x2="464.8" y2="205.6" stroke="#222" stroke-width="1.6"/>
<text transform="translate(440.85,202.20) scale(1,1.16)" font-size="9.2" text-anchor="middle" textLength="16.7" lengthAdjust="spacingAndGlyphs">24h</text>
<clipPath id="cp1"><rect x="204.20" y="214.90" width="270.60" height="24.90"/></clipPath>
<g clip-path="url(#cp1)">
<rect x="204.20" y="214.90" width="270.60" height="24.90" fill="#b6b6b6"/>
<rect x="235.00" y="214.00" width="8.00" height="27.00" fill="#c6c6c6" filter="url(#b2)"/>
<rect x="268.50" y="214.00" width="8.00" height="27.00" fill="#c6c6c6" filter="url(#b2)"/>
<rect x="302.00" y="214.00" width="8.00" height="27.00" fill="#c6c6c6" filter="url(#b2)"/>
<rect x="335.50" y="214.00" width="8.00" height="27.00" fill="#c6c6c6" filter="url(#b2)"/>
<rect x="368.50" y="214.00" width="8.00" height="27.00" fill="#c6c6c6" filter="url(#b2)"/>
<rect x="401.00" y="214.00" width="8.00" height="27.00" fill="#c6c6c6" filter="url(#b2)"/>
<rect x="437.50" y="214.00" width="8.00" height="27.00" fill="#c6c6c6" filter="url(#b2)"/>
<polygon points="204.00,237.50 330.00,239.50 475.00,232.00 475.00,241.00 204.00,241.00" fill="#e6e6e6" filter="url(#b2)"/>
<polygon points="320.00,242.00 405.00,234.50 476.00,230.50 476.00,242.00" fill="#f2f2f2" filter="url(#b15)"/>
<rect x="211.80" y="221.50" width="22.50" height="12.50" fill="#7e7e7e" filter="url(#b15)"/>
<rect x="212.80" y="228.00" width="20.50" height="6" fill="#000" opacity="0.18" filter="url(#b15)"/>
<rect x="244.00" y="220.00" width="23.50" height="12.00" fill="#7a7a7a" filter="url(#b15)"/>
<rect x="245.00" y="226.00" width="21.50" height="6" fill="#000" opacity="0.18" filter="url(#b15)"/>
<rect x="277.80" y="218.50" width="22.90" height="12.50" fill="#808080" filter="url(#b15)"/>
<rect x="278.80" y="225.00" width="20.90" height="6" fill="#000" opacity="0.18" filter="url(#b15)"/>
<rect x="311.10" y="218.00" width="22.90" height="12.00" fill="#7e7e7e" filter="url(#b15)"/>
<rect x="312.10" y="224.00" width="20.90" height="6" fill="#000" opacity="0.18" filter="url(#b15)"/>
<rect x="344.80" y="218.00" width="22.30" height="12.00" fill="#9c9c9c" filter="url(#b15)"/>
<rect x="345.80" y="224.00" width="20.30" height="6" fill="#000" opacity="0.18" filter="url(#b15)"/>
<rect x="378.00" y="218.00" width="21.90" height="11.00" fill="#a2a2a2" filter="url(#b15)"/>
<rect x="379.00" y="223.00" width="19.90" height="6" fill="#000" opacity="0.18" filter="url(#b15)"/>
<rect x="410.20" y="218.00" width="26.00" height="10.00" fill="#a8a8a8" filter="url(#b15)"/>
<rect x="411.20" y="222.00" width="24.00" height="6" fill="#000" opacity="0.18" filter="url(#b15)"/>
<rect x="446.60" y="218.00" width="20.80" height="8.50" fill="#b0b0b0" filter="url(#b15)"/>
<rect x="447.60" y="220.50" width="18.80" height="6" fill="#000" opacity="0.18" filter="url(#b15)"/>
<rect x="211.40" y="231.10" width="23.20" height="6.40" rx="1.60" ry="3.20" fill="#080808" filter="url(#b1)"/>
<rect x="243.70" y="228.00" width="24.10" height="8.00" rx="1.60" ry="4.00" fill="#080808" filter="url(#b1)"/>
<rect x="277.40" y="227.80" width="23.60" height="7.00" rx="1.60" ry="3.50" fill="#080808" filter="url(#b1)"/>
<rect x="310.80" y="226.00" width="23.50" height="9.00" rx="1.60" ry="4.50" fill="#080808" filter="url(#b1)"/>
<rect x="344.60" y="227.70" width="22.70" height="5.40" rx="1.60" ry="2.70" fill="#080808" filter="url(#b1)"/>
<rect x="377.80" y="226.70" width="22.30" height="5.20" rx="1.60" ry="2.60" fill="#080808" filter="url(#b1)"/>
<rect x="410.00" y="225.30" width="26.40" height="5.20" rx="1.60" ry="2.60" fill="#080808" filter="url(#b1)"/>
<rect x="446.40" y="224.30" width="21.20" height="4.40" rx="1.60" ry="2.20" fill="#080808" filter="url(#b1)"/>
</g>
<rect x="204.95" y="215.65" width="269.10" height="23.40" fill="none" stroke="#111" stroke-width="1.5"/>
<clipPath id="cp2"><rect x="205.60" y="247.20" width="271.00" height="24.70"/></clipPath>
<g clip-path="url(#cp2)">
<rect x="205.60" y="247.20" width="271.00" height="24.70" fill="#e2e2e2"/>
<rect x="200" y="245" width="280" height="6" fill="#cfcfcf" filter="url(#b2)"/>
<rect x="213.30" y="258.50" width="24.30" height="7.00" rx="1.60" ry="3.50" fill="#080808" filter="url(#b1)"/>
<rect x="244.50" y="257.60" width="25.40" height="6.80" rx="1.60" ry="3.40" fill="#080808" filter="url(#b1)"/>
<rect x="277.80" y="256.60" width="24.40" height="6.80" rx="1.60" ry="3.40" fill="#080808" filter="url(#b1)"/>
<rect x="310.50" y="255.55" width="24.90" height="6.90" rx="1.60" ry="3.45" fill="#080808" filter="url(#b1)"/>
<rect x="344.20" y="256.00" width="23.90" height="7.00" rx="1.60" ry="3.50" fill="#080808" filter="url(#b1)"/>
<rect x="376.00" y="256.50" width="24.10" height="7.00" rx="1.60" ry="3.50" fill="#080808" filter="url(#b1)"/>
<rect x="408.00" y="257.00" width="26.60" height="7.40" rx="1.60" ry="3.70" fill="#080808" filter="url(#b1)"/>
<rect x="441.90" y="257.00" width="25.40" height="6.80" rx="1.60" ry="3.40" fill="#080808" filter="url(#b1)"/>
</g>
<rect x="206.35" y="247.95" width="269.50" height="23.20" fill="none" stroke="#111" stroke-width="1.5"/>
<clipPath id="cp3"><rect x="205.20" y="282.30" width="271.00" height="24.00"/></clipPath>
<g clip-path="url(#cp3)">
<rect x="205.20" y="282.30" width="271.00" height="24.00" fill="#cdcdcd"/>
<rect x="241.50" y="280.00" width="7.00" height="30.00" fill="#d0d0d0" filter="url(#b2)"/>
<rect x="276.00" y="280.00" width="7.00" height="30.00" fill="#d0d0d0" filter="url(#b2)"/>
<rect x="308.00" y="280.00" width="7.00" height="30.00" fill="#d0d0d0" filter="url(#b2)"/>
<rect x="338.00" y="280.00" width="7.00" height="30.00" fill="#d0d0d0" filter="url(#b2)"/>
<rect x="370.00" y="280.00" width="7.00" height="30.00" fill="#d0d0d0" filter="url(#b2)"/>
<rect x="399.50" y="280.00" width="7.00" height="30.00" fill="#d0d0d0" filter="url(#b2)"/>
<rect x="433.00" y="280.00" width="7.00" height="30.00" fill="#d0d0d0" filter="url(#b2)"/>
<polygon points="204.00,300.00 340.00,299.00 475.00,294.00 475.00,310.00 204.00,310.00" fill="#dedede" filter="url(#b3)"/>
<polygon points="330.00,310.00 340.00,302.00 475.00,297.00 475.00,310.00" fill="#f4f4f4" filter="url(#b2)"/>
<rect x="213.40" y="293.10" width="29.10" height="5.00" rx="1.60" ry="2.50" fill="#8e8e8e" filter="url(#b2)"/>
<rect x="247.8" y="282" width="28.8" height="23" fill="#161616" filter="url(#b1)"/>
<rect x="252" y="287" width="20" height="5" fill="#3c3c3c" filter="url(#b2)"/>
<rect x="249.00" y="295.00" width="27.00" height="8.00" rx="1.60" ry="4.00" fill="#050505" filter="url(#b15)"/>
<rect x="283.5" y="287" width="23.5" height="14" fill="#a0a0a0" filter="url(#b3)"/>
<rect x="283.50" y="292.50" width="23.50" height="4.60" rx="1.60" ry="2.30" fill="#333" filter="url(#b15)"/>
<rect x="314.3" y="284" width="24.3" height="18" fill="#888" filter="url(#b3)"/>
<rect x="316.30" y="291.30" width="20.30" height="6.00" rx="1.60" ry="3.00" fill="#202020" filter="url(#b15)"/>
<rect x="345.30" y="289.30" width="23.90" height="6.00" rx="1.60" ry="3.00" fill="#8e8e8e" filter="url(#b2)"/>
<rect x="377.5" y="286" width="22" height="14" fill="#a0a0a0" filter="url(#b3)"/>
<rect x="377.50" y="289.70" width="21.90" height="5.60" rx="1.60" ry="2.80" fill="#262626" filter="url(#b15)"/>
<rect x="407.00" y="287.85" width="27.10" height="5.50" rx="1.60" ry="2.75" fill="#858585" filter="url(#b2)"/>
<rect x="424.00" y="288.60" width="10.00" height="4.00" rx="1.60" ry="2.00" fill="#606060" filter="url(#b15)"/>
<rect x="439.30" y="287.10" width="29.20" height="5.00" rx="1.60" ry="2.50" fill="#a4a4a4" filter="url(#b2)"/>
</g>
<rect x="205.95" y="283.05" width="269.50" height="22.50" fill="none" stroke="#111" stroke-width="1.5"/>
<clipPath id="cp4"><rect x="204.60" y="314.60" width="270.20" height="24.10"/></clipPath>
<g clip-path="url(#cp4)">
<rect x="204.60" y="314.60" width="270.20" height="24.10" fill="#d6d6d6"/>
<rect x="200" y="332" width="280" height="8" fill="#e4e4e4" filter="url(#b3)"/>
<rect x="206" y="314" width="4" height="26" fill="#ececec" filter="url(#b1)"/>
<polygon points="211.00,325.80 212.80,324.10 225.80,325.10 239.30,326.60 246.60,326.10 255.00,327.10 267.40,327.10 275.00,324.60 278.30,324.60 290.80,325.50 294.00,323.60 304.30,326.60 311.60,325.10 316.80,324.10 332.40,324.10 338.00,325.10 350.60,324.60 368.30,324.60 378.70,323.60 393.30,324.10 397.40,323.10 405.00,324.10 423.70,323.10 432.00,323.60 436.20,321.60 451.80,321.60 463.30,320.50 466.50,321.30 466.50,323.30 463.30,324.10 451.80,327.80 436.20,328.30 432.00,327.30 423.70,329.90 405.00,328.80 397.40,328.30 393.30,328.80 378.70,329.90 368.30,328.30 350.60,330.90 338.00,327.30 332.40,331.40 316.80,330.90 311.60,327.80 304.30,330.90 290.80,331.40 278.30,329.90 275.00,329.90 267.40,333.50 255.00,330.90 241.00,330.90 239.30,332.50 225.80,331.40 212.80,328.50" fill="#060606" filter="url(#b1)"/>
</g>
<rect x="205.35" y="315.35" width="268.70" height="22.60" fill="none" stroke="#111" stroke-width="1.5"/>
<clipPath id="cp5"><rect x="204.90" y="353.60" width="270.40" height="23.40"/></clipPath>
<g clip-path="url(#cp5)">
<rect x="204.90" y="353.60" width="270.40" height="23.40" fill="#b0b0b0"/>
<rect x="200" y="353" width="280" height="3.5" fill="#c8c8c8" filter="url(#b1)"/>
<rect x="200" y="369" width="280" height="9" fill="#9e9e9e" filter="url(#b15)"/>
<rect x="205.95" y="350.00" width="6.50" height="30.00" fill="#dadada" filter="url(#b1)"/>
<rect x="241.55" y="350.00" width="6.50" height="30.00" fill="#dadada" filter="url(#b1)"/>
<rect x="276.35" y="350.00" width="6.50" height="30.00" fill="#dadada" filter="url(#b1)"/>
<rect x="307.85" y="350.00" width="6.50" height="30.00" fill="#dadada" filter="url(#b1)"/>
<rect x="341.75" y="350.00" width="6.50" height="30.00" fill="#dadada" filter="url(#b1)"/>
<rect x="372.65" y="350.00" width="6.50" height="30.00" fill="#dadada" filter="url(#b1)"/>
<rect x="403.55" y="350.00" width="6.50" height="30.00" fill="#dadada" filter="url(#b1)"/>
<rect x="437.25" y="350.00" width="6.50" height="30.00" fill="#dadada" filter="url(#b1)"/>
<rect x="442" y="350" width="36" height="30" fill="#dcdcdc" filter="url(#b15)"/>
<rect x="200" y="353" width="280" height="8" fill="#c4c4c4" filter="url(#b2)"/>
<rect x="410.7" y="360" width="27" height="10" fill="#7a7a7a" filter="url(#b15)"/>
<polygon points="212.80,366.40 214.00,363.80 219.83,364.15 226.85,364.50 233.88,364.05 239.70,363.60 240.90,366.30 239.70,369.00 233.88,368.70 226.85,368.40 219.83,368.70 214.00,369.00" fill="#080808" filter="url(#b1)"/>
<polygon points="248.20,366.10 249.40,363.20 254.97,363.50 261.75,363.80 268.52,363.40 274.10,363.00 275.30,366.10 274.10,369.20 268.52,368.80 261.75,368.40 254.97,368.70 249.40,369.00" fill="#080808" filter="url(#b1)"/>
<polygon points="283.50,366.30 284.70,363.20 289.35,363.40 295.20,363.60 301.05,363.30 305.70,363.00 306.90,366.20 305.70,369.40 301.05,369.10 295.20,368.80 289.35,369.10 284.70,369.40" fill="#080808" filter="url(#b1)"/>
<polygon points="314.70,367.10 315.90,364.40 321.30,364.95 327.90,365.50 334.50,365.75 339.90,366.00 341.10,369.10 339.90,372.20 334.50,371.00 327.90,369.80 321.30,369.80 315.90,369.80" fill="#080808" filter="url(#b1)"/>
<polygon points="348.40,369.10 349.60,365.40 354.38,366.00 360.35,366.60 366.32,366.10 371.10,365.60 372.30,369.20 371.10,372.80 366.32,371.85 360.35,370.90 354.38,371.85 349.60,372.80" fill="#080808" filter="url(#b1)"/>
<polygon points="379.10,369.50 380.30,365.80 385.35,366.50 391.60,367.20 397.85,366.50 402.90,365.80 404.10,369.50 402.90,373.20 397.85,372.25 391.60,371.30 385.35,372.25 380.30,373.20" fill="#080808" filter="url(#b1)"/>
<polygon points="410.70,371.30 411.90,367.40 417.48,367.90 424.25,368.40 431.02,367.90 436.60,367.40 437.80,371.30 436.60,375.20 431.02,374.20 424.25,373.20 417.48,374.20 411.90,375.20" fill="#080808" filter="url(#b1)"/>
<rect x="444.00" y="369.80" width="22.00" height="4.00" rx="1.60" ry="2.00" fill="#bcbcbc" filter="url(#b15)"/>
</g>
<rect x="205.65" y="354.35" width="268.90" height="21.90" fill="none" stroke="#111" stroke-width="1.5"/>
<clipPath id="cp6"><rect x="205.20" y="385.30" width="271.00" height="23.80"/></clipPath>
<g clip-path="url(#cp6)">
<rect x="205.20" y="385.30" width="271.00" height="23.80" fill="#d4d4d4"/>
<rect x="200" y="385" width="280" height="3" fill="#e0e0e0" filter="url(#b1)"/>
<rect x="200" y="403" width="280" height="6" fill="#dcdcdc" filter="url(#b2)"/>
<rect x="206.00" y="383.00" width="5.00" height="28.00" fill="#e0e0e0" filter="url(#b15)"/>
<rect x="244.70" y="383.00" width="5.00" height="28.00" fill="#e0e0e0" filter="url(#b15)"/>
<rect x="280.50" y="383.00" width="5.00" height="28.00" fill="#e0e0e0" filter="url(#b15)"/>
<rect x="311.50" y="383.00" width="5.00" height="28.00" fill="#e0e0e0" filter="url(#b15)"/>
<rect x="344.50" y="383.00" width="5.00" height="28.00" fill="#e0e0e0" filter="url(#b15)"/>
<rect x="376.10" y="383.00" width="5.00" height="28.00" fill="#e0e0e0" filter="url(#b15)"/>
<rect x="406.30" y="383.00" width="5.00" height="28.00" fill="#e0e0e0" filter="url(#b15)"/>
<rect x="468" y="383" width="10" height="30" fill="#e6e6e6" filter="url(#b2)"/>
<polygon points="213.90,398.35 215.10,394.80 221.82,394.75 229.75,394.70 237.68,394.75 244.40,394.80 245.60,398.25 244.40,401.70 237.68,401.85 229.75,402.00 221.82,401.95 215.10,401.90" fill="#080808" filter="url(#b1)"/>
<polygon points="248.70,398.35 249.90,394.90 256.88,394.25 265.05,393.60 273.22,393.20 280.20,392.80 281.40,396.25 280.20,399.70 273.22,400.00 265.05,400.30 256.88,401.05 249.90,401.80" fill="#080808" filter="url(#b1)"/>
<polygon points="284.60,395.80 285.80,392.40 291.62,392.60 298.65,392.80 305.68,392.60 311.50,392.40 312.70,395.85 311.50,399.30 305.68,399.50 298.65,399.70 291.62,399.45 285.80,399.20" fill="#080808" filter="url(#b1)"/>
<polygon points="315.30,396.35 316.50,392.90 322.82,393.35 330.35,393.80 337.88,394.15 344.20,394.50 345.40,397.80 344.20,401.10 337.88,400.90 330.35,400.70 322.82,400.25 316.50,399.80" fill="#080808" filter="url(#b1)"/>
<polygon points="348.50,397.45 349.70,393.60 355.77,393.60 363.05,393.60 370.33,393.60 376.40,393.60 377.60,397.45 376.40,401.30 370.33,401.30 363.05,401.30 355.77,401.30 349.70,401.30" fill="#080808" filter="url(#b1)"/>
<polygon points="379.70,397.05 380.90,393.10 386.73,393.10 393.75,393.10 400.77,393.10 406.60,393.10 407.80,397.05 406.60,401.00 400.77,401.00 393.75,401.00 386.73,401.00 380.90,401.00" fill="#080808" filter="url(#b1)"/>
<polygon points="409.90,397.50 411.50,394.10 430.00,394.10 450.00,394.60 462.00,394.50 467.50,396.00 467.80,400.00 462.00,401.90 450.00,402.30 430.00,402.10 411.50,401.50" fill="#080808" filter="url(#b1)"/>
</g>
<rect x="205.95" y="386.05" width="269.50" height="22.30" fill="none" stroke="#111" stroke-width="1.5"/>
<text transform="translate(198.40,228.50) scale(1,1.14)" font-size="9.6" text-anchor="end" textLength="30.4" lengthAdjust="spacingAndGlyphs">HIF-1α</text>
<text transform="translate(198.10,263.70) scale(1,1.14)" font-size="9.6" text-anchor="end" textLength="34.3" lengthAdjust="spacingAndGlyphs">GAPDH</text>
<text transform="translate(197.60,299.90) scale(1,1.14)" font-size="9.6" text-anchor="end" textLength="30.9" lengthAdjust="spacingAndGlyphs">SENP1</text>
<text transform="translate(198.10,332.70) scale(1,1.14)" font-size="9.6" text-anchor="end" textLength="34.3" lengthAdjust="spacingAndGlyphs">GAPDH</text>
<text transform="translate(197.60,369.40) scale(1,1.14)" font-size="9.6" text-anchor="end" textLength="30.9" lengthAdjust="spacingAndGlyphs">ACSL4</text>
<text transform="translate(198.10,399.70) scale(1,1.14)" font-size="9.6" text-anchor="end" textLength="34.3" lengthAdjust="spacingAndGlyphs">GAPDH</text>
<text transform="translate(479.20,233.40) scale(1,1.0)" font-size="9.6" text-anchor="start" textLength="31.3" lengthAdjust="spacingAndGlyphs">120 kD</text>
<text transform="translate(479.70,263.90) scale(1,1.0)" font-size="9.6" text-anchor="start" textLength="26.0" lengthAdjust="spacingAndGlyphs">37 kD</text>
<text transform="translate(481.20,299.10) scale(1,1.0)" font-size="9.6" text-anchor="start" textLength="26.0" lengthAdjust="spacingAndGlyphs">73 kD</text>
<text transform="translate(480.40,330.40) scale(1,1.0)" font-size="9.6" text-anchor="start" textLength="26.3" lengthAdjust="spacingAndGlyphs">37 kD</text>
<text transform="translate(480.40,369.40) scale(1,1.0)" font-size="9.6" text-anchor="start" textLength="26.3" lengthAdjust="spacingAndGlyphs">79 kD</text>
<text transform="translate(481.20,400.20) scale(1,1.0)" font-size="9.6" text-anchor="start" textLength="26.0" lengthAdjust="spacingAndGlyphs">37 kD</text>
<text transform="translate(168.30,424.30) scale(1,1.1)" font-size="9.4" text-anchor="start" textLength="45.2" lengthAdjust="spacingAndGlyphs">Normoxia</text>
<text transform="translate(168.30,434.40) scale(1,1.1)" font-size="9.4" text-anchor="start" textLength="37.3" lengthAdjust="spacingAndGlyphs">Hypoxia</text>
<path d="M226.80 421.20H234.00M230.40 418.00V424.50" stroke="#333" stroke-width="1.15" fill="none"/>
<line x1="225.40" y1="433.00" x2="235.40" y2="433.00" stroke="#111" stroke-width="2.1"/>
<line x1="263.10" y1="421.20" x2="273.10" y2="421.20" stroke="#111" stroke-width="2.1"/>
<path d="M264.50 433.00H271.70M268.10 429.80V436.30" stroke="#333" stroke-width="1.15" fill="none"/>
<path d="M296.20 421.20H303.40M299.80 418.00V424.50" stroke="#333" stroke-width="1.15" fill="none"/>
<line x1="294.80" y1="433.00" x2="304.80" y2="433.00" stroke="#111" stroke-width="2.1"/>
<line x1="325.00" y1="421.20" x2="335.00" y2="421.20" stroke="#111" stroke-width="2.1"/>
<path d="M326.40 433.00H333.60M330.00 429.80V436.30" stroke="#333" stroke-width="1.15" fill="none"/>
<path d="M359.70 421.20H366.90M363.30 418.00V424.50" stroke="#333" stroke-width="1.15" fill="none"/>
<line x1="358.30" y1="433.00" x2="368.30" y2="433.00" stroke="#111" stroke-width="2.1"/>
<line x1="388.80" y1="421.20" x2="398.80" y2="421.20" stroke="#111" stroke-width="2.1"/>
<path d="M390.20 433.00H397.40M393.80 429.80V436.30" stroke="#333" stroke-width="1.15" fill="none"/>
<path d="M419.30 421.20H426.50M422.90 418.00V424.50" stroke="#333" stroke-width="1.15" fill="none"/>
<line x1="417.90" y1="433.00" x2="427.90" y2="433.00" stroke="#111" stroke-width="2.1"/>
<line x1="448.40" y1="421.20" x2="458.40" y2="421.20" stroke="#111" stroke-width="2.1"/>
<path d="M449.80 433.00H457.00M453.40 429.80V436.30" stroke="#333" stroke-width="1.15" fill="none"/>
</svg></body></html>
